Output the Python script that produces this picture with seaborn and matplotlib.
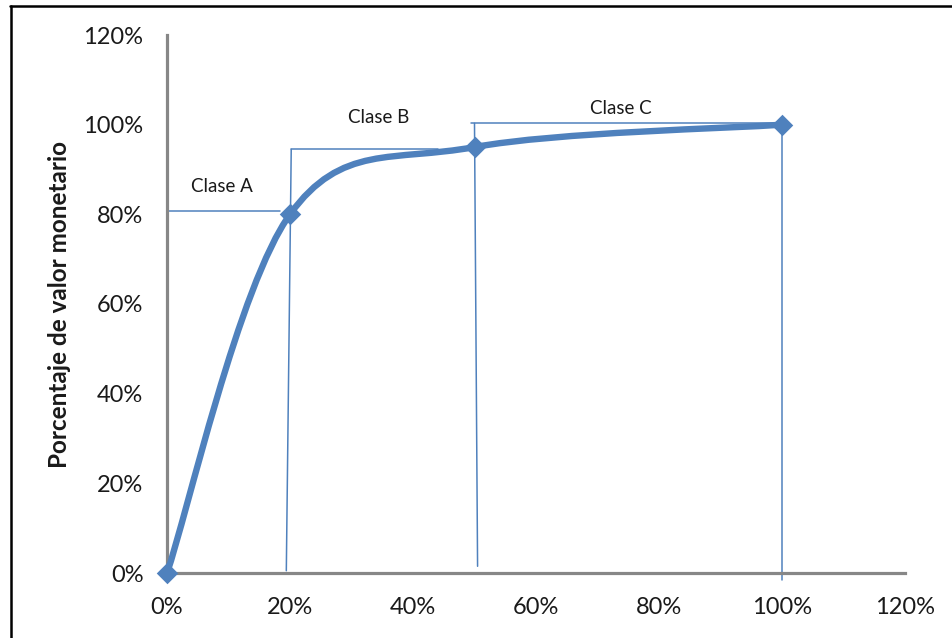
import numpy as np
import pandas as pd
import matplotlib.pyplot as plt
import seaborn as sns
from matplotlib.path import Path
from matplotlib.patches import PathPatch
from matplotlib.lines import Line2D
from matplotlib.ticker import FuncFormatter

# curve points (% of items, % of money value)
pct_items = [0, 20, 50, 100]
pct_value = [0, 80, 95, 100]

# class boundary guides: (x0, y0, x1, y1)
guide_x0 = [0, 20.2, 20.2, 50, 49.5, 100]
guide_y0 = [80.8, 94.5, 94.5, 100.3, 100.3, 100]
guide_x1 = [18.3, 19.4, 44, 50.5, 100, 100]
guide_y1 = [80.8, 0.5, 94.5, 1.5, 100.3, -1.5]

class_names = ["Clase A", "Clase B", "Clase C"]
class_x = [8.9, 34.5, 73.8]
class_y = [86.3, 101.7, 103.6]

tick_vals = [0, 20, 40, 60, 80, 100, 120]

blue = "#4F81BD"
grey = "#878787"

sns.set_style("white")
plt.rcParams['font.family'] = ['Lato', 'DejaVu Sans']

df = pd.DataFrame({"items": pct_items, "value": pct_value})

fig = plt.figure(figsize=(9.52, 6.38), dpi=100)
ax = fig.add_axes([167/952, 65/638, (905-167)/952, (573-35)/638])

# thin guide lines
for x0, y0, x1, y1 in zip(guide_x0, guide_y0, guide_x1, guide_y1):
    ax.plot([x0, x1], [y0, y1], color=blue, lw=1.1, clip_on=False, zorder=2)

# smoothed line through the points (Excel-style bezier smoothing)
pts = df[["items", "value"]].to_numpy(dtype=float)
verts = [pts[0]]
codes = [Path.MOVETO]
n = len(pts)
for i in range(n - 1):
    p_prev = pts[i - 1] if i > 0 else pts[i]
    p_next2 = pts[i + 2] if i + 2 < n else pts[i + 1]
    c1 = pts[i] + (pts[i + 1] - p_prev) / 6
    c2 = pts[i + 1] - (p_next2 - pts[i]) / 6
    verts += [c1, c2, pts[i + 1]]
    codes += [Path.CURVE4] * 3
ax.add_patch(PathPatch(Path(verts, codes), facecolor="none", edgecolor=blue,
                       lw=4.6, capstyle="round", zorder=3, clip_on=False))

sns.scatterplot(data=df, x="items", y="value", marker="D", s=120, color=blue,
                edgecolor=blue, linewidth=0, zorder=4, clip_on=False, ax=ax)

for name, x, y in zip(class_names, class_x, class_y):
    ax.text(x, y, name, fontsize=13.5, ha="center", va="center", color="#1a1a1a")

ax.set_xlim(0, 120)
ax.set_ylim(0, 120)
ax.set_xticks(tick_vals)
ax.set_yticks(tick_vals)
fmt = FuncFormatter(lambda v, p: f"{v:.0f}%")
ax.xaxis.set_major_formatter(fmt)
ax.yaxis.set_major_formatter(fmt)
ax.tick_params(axis="both", length=0, labelsize=17, colors="#1a1a1a")
ax.tick_params(axis="y", pad=17)
ax.tick_params(axis="x", pad=17)

for side in ["top", "right"]:
    ax.spines[side].set_visible(False)
for side in ["left", "bottom"]:
    ax.spines[side].set_color(grey)
    ax.spines[side].set_linewidth(2.3)

ax.set_xlabel("")
ax.set_ylabel("Porcentaje de valor monetario", fontsize=17.5, fontweight="bold",
              color="#1a1a1a")
ax.yaxis.set_label_coords(-0.13, 0.5)

# outer frame (top and left edges visible)
fig.add_artist(Line2D([10.5/952, 10.5/952], [0, 1 - 5.5/638], color="black",
                      lw=1.8, transform=fig.transFigure))
fig.add_artist(Line2D([10/952, 1], [1 - 5.5/638, 1 - 5.5/638], color="black",
                      lw=1.8, transform=fig.transFigure))

plt.savefig("out.png", dpi=100)
